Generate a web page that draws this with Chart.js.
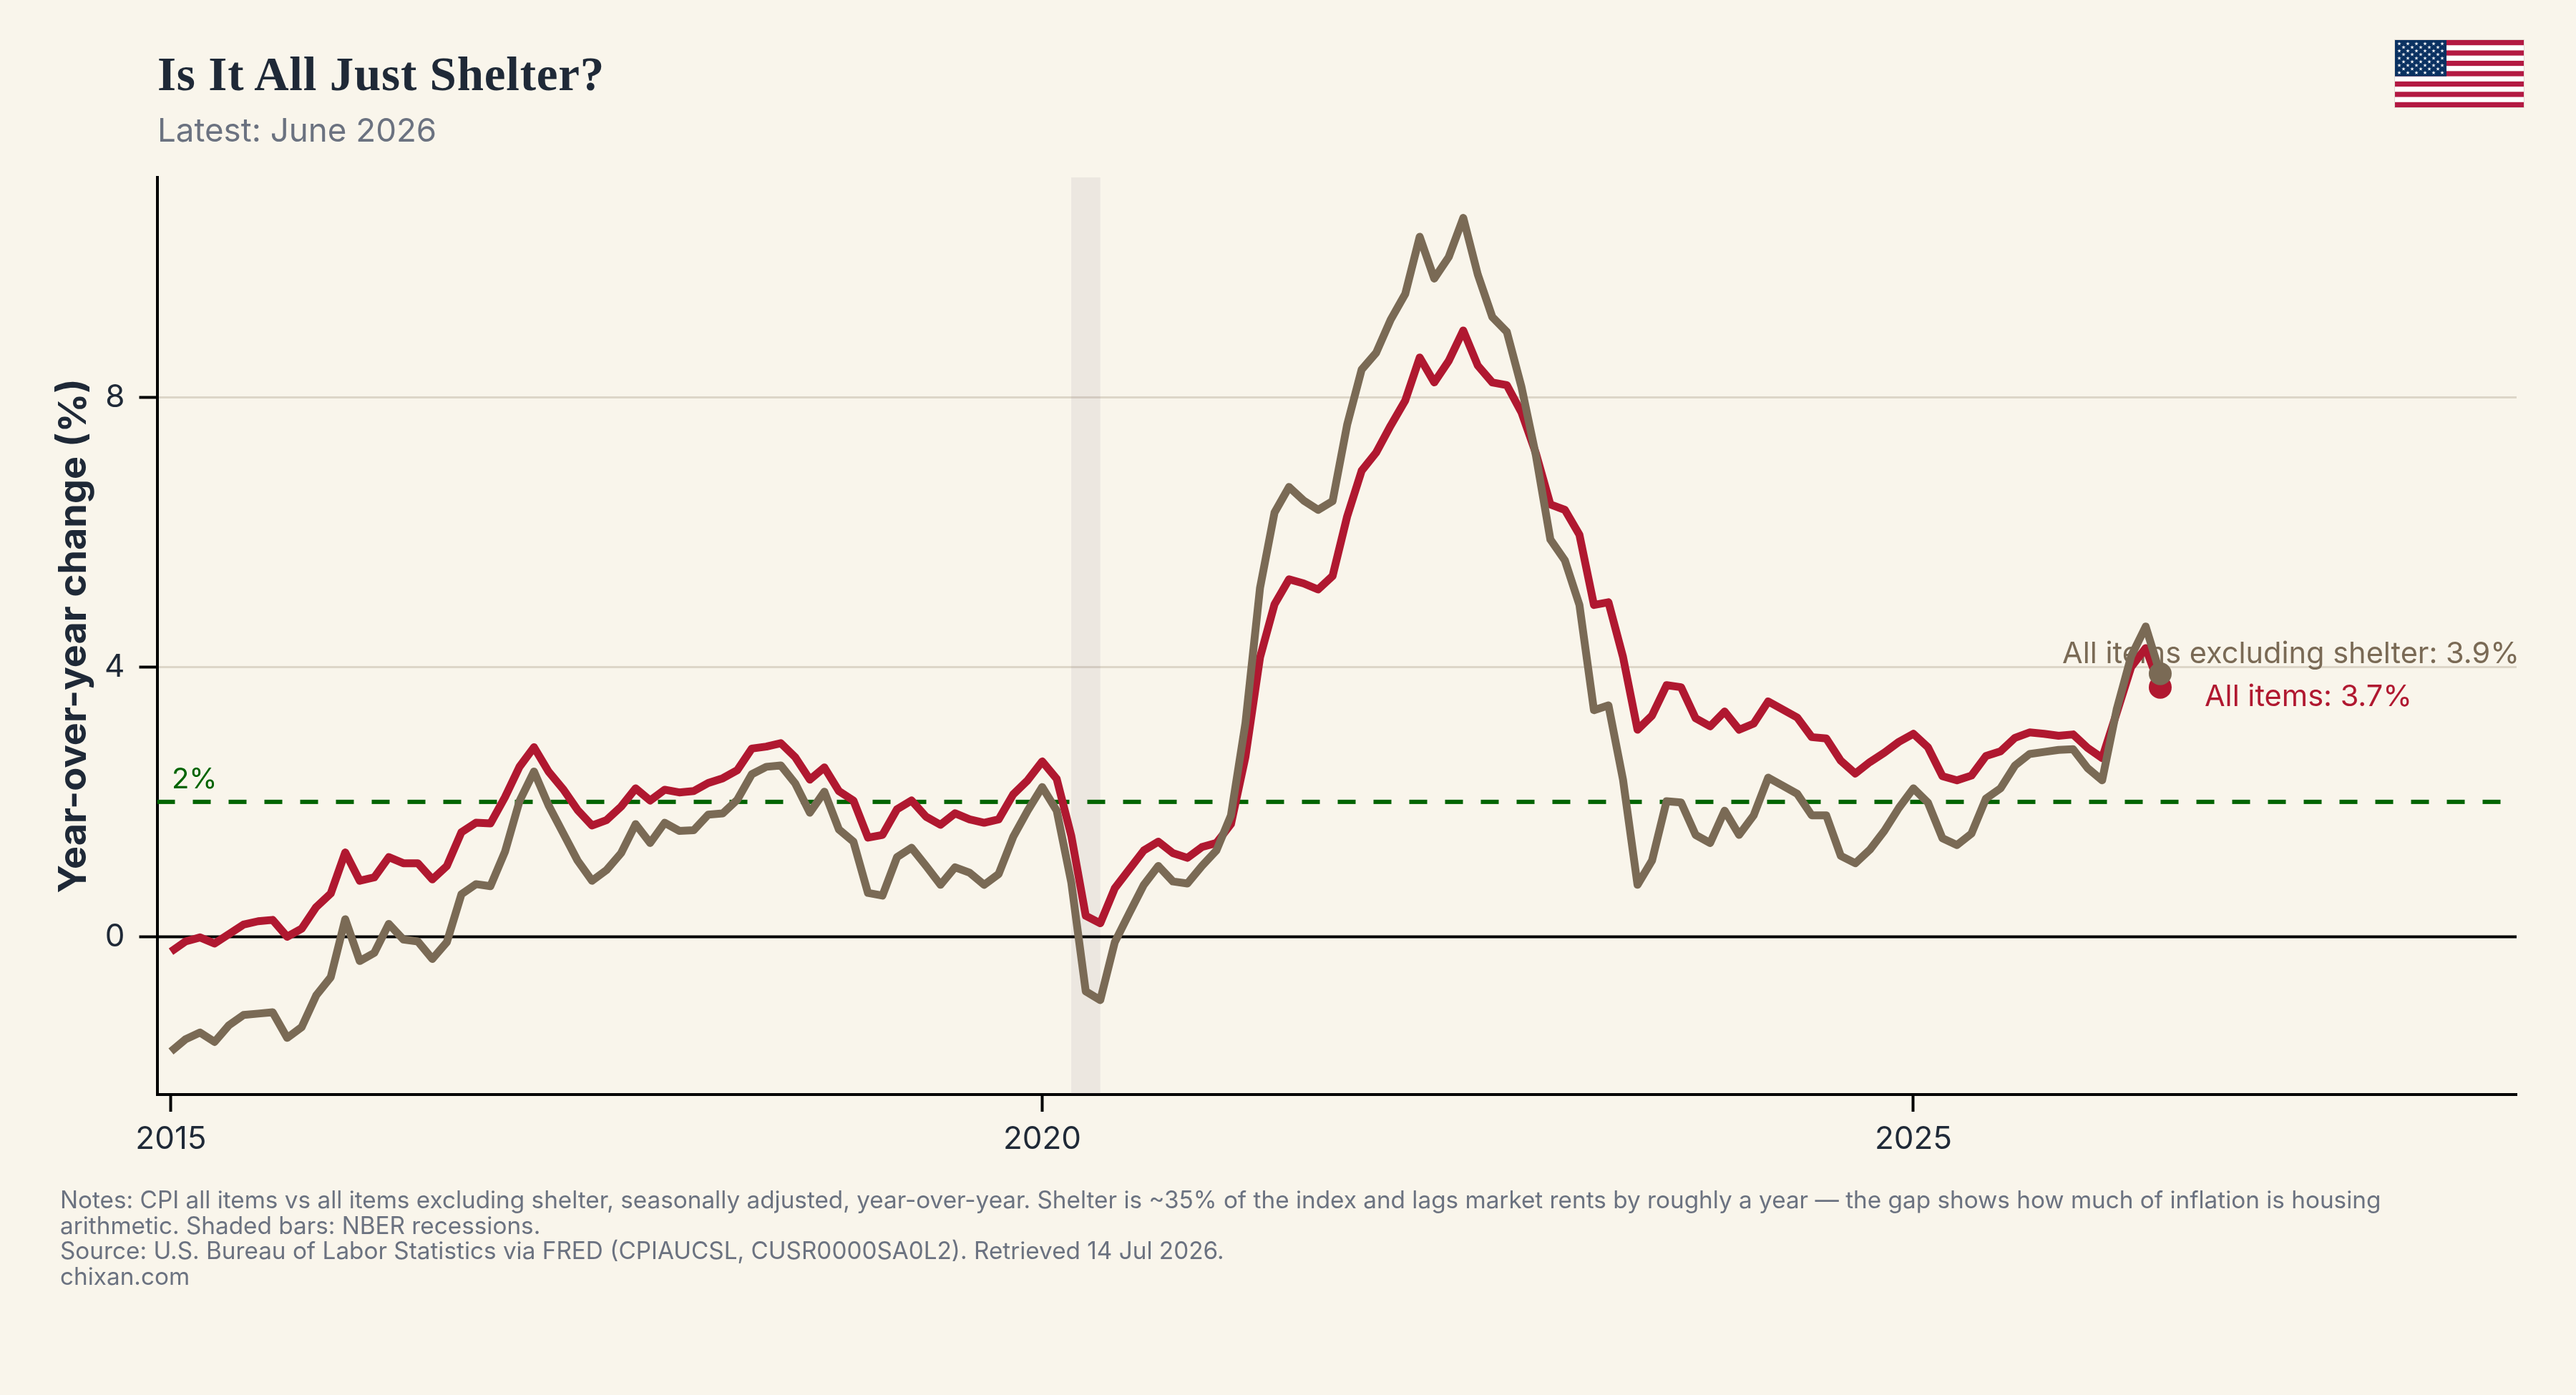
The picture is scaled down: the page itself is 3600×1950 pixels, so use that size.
<!DOCTYPE html>
<html>
<head>
<meta charset="utf-8">
<script src="https://cdn.jsdelivr.net/npm/chart.js@4"></script>
<style>
  html, body { margin: 0; padding: 0; background: #f9f5eb; }
  #wrap { position: relative; width: 3600px; height: 1950px; background: #f9f5eb; overflow: hidden; }
  #plot { position: absolute; left: 0; top: 0; }
  .title { position: absolute; left: 220px; top: 65px; font: 700 67px "Liberation Serif", serif; letter-spacing: 0.8px; color: #1f2937; white-space: nowrap; }
  .subtitle { position: absolute; left: 220px; top: 154px; font: 400 45.7px Inter, sans-serif; color: #6b7280; white-space: nowrap; }
  .notes { position: absolute; left: 84px; top: 1660px; font: 400 33.3px/35.7px Inter, sans-serif; color: #6b7280; white-space: pre; }
  #flag { position: absolute; left: 3346px; top: 55px; }
</style>
</head>
<body>
<div id="wrap">
  <canvas id="plot" width="3600" height="1950"></canvas>
  <div class="title">Is It All Just Shelter?</div>
  <div class="subtitle">Latest: June 2026</div>
  <div class="notes">Notes: CPI all items vs all items excluding shelter, seasonally adjusted, year-over-year. Shelter is ~35% of the index and lags market rents by roughly a year — the gap shows how much of inflation is housing
arithmetic. Shaded bars: NBER recessions.
Source: U.S. Bureau of Labor Statistics via FRED (CPIAUCSL, CUSR0000SA0L2). Retrieved 14 Jul 2026.
chixan.com</div>
  <svg id="flag" width="182" height="96" viewBox="0 0 182 96"></svg>
</div>
<script>
// Monthly year-over-year CPI change, January 2015 through June 2026.
const allItems = [
  -0.22,-0.07,-0.01,-0.10,0.04,0.18,0.23,0.25,0.00,0.12,0.44,0.64,
  1.25,0.83,0.88,1.18,1.09,1.09,0.85,1.05,1.55,1.69,1.68,2.07,
  2.52,2.81,2.45,2.19,1.88,1.65,1.73,1.93,2.20,2.02,2.18,2.14,
  2.16,2.28,2.35,2.47,2.79,2.82,2.87,2.66,2.33,2.51,2.16,2.02,
  1.47,1.51,1.89,2.02,1.78,1.66,1.83,1.74,1.69,1.74,2.11,2.32,
  2.60,2.34,1.50,0.31,0.20,0.72,1.00,1.28,1.41,1.24,1.17,1.33,
  1.39,1.67,2.67,4.14,4.93,5.30,5.24,5.15,5.35,6.23,6.91,7.18,
  7.58,7.95,8.59,8.22,8.54,8.99,8.47,8.22,8.18,7.78,7.17,6.41,
  6.33,5.96,4.92,4.96,4.15,3.07,3.28,3.73,3.70,3.24,3.12,3.34,
  3.07,3.16,3.49,3.37,3.25,2.96,2.94,2.61,2.42,2.59,2.73,2.89,
  3.01,2.81,2.38,2.32,2.39,2.68,2.75,2.95,3.03,3.01,2.98,3.00,
  2.80,2.65,3.32,4.00,4.28,3.70
];
const exShelter = [
  -1.70,-1.52,-1.42,-1.56,-1.31,-1.16,-1.14,-1.12,-1.50,-1.34,-0.87,-0.60,
  0.26,-0.36,-0.24,0.19,-0.04,-0.07,-0.33,-0.08,0.63,0.78,0.75,1.26,
  2.01,2.45,1.95,1.54,1.13,0.83,0.99,1.24,1.67,1.39,1.69,1.57,
  1.58,1.81,1.83,2.03,2.41,2.52,2.54,2.27,1.84,2.15,1.59,1.41,
  0.65,0.61,1.18,1.32,1.05,0.77,1.03,0.95,0.77,0.93,1.48,1.87,
  2.22,1.87,0.81,-0.81,-0.94,-0.08,0.35,0.77,1.05,0.82,0.79,1.05,
  1.28,1.80,3.17,5.17,6.29,6.67,6.47,6.33,6.46,7.59,8.41,8.66,
  9.15,9.53,10.38,9.76,10.08,10.66,9.82,9.19,8.97,8.16,7.14,5.89,
  5.58,4.92,3.36,3.43,2.33,0.77,1.13,2.01,1.99,1.51,1.39,1.87,
  1.51,1.80,2.36,2.24,2.12,1.80,1.80,1.20,1.09,1.29,1.57,1.91,
  2.20,1.99,1.46,1.36,1.53,2.05,2.20,2.54,2.71,2.74,2.77,2.78,
  2.50,2.32,3.37,4.16,4.60,3.90
];
const startYear = 2015;
const xTickYears = [2015, 2020, 2025];
const yTickValues = [0, 4, 8];
const targetRate = 2;
const recessionSpan = [2020 + 2 / 12, 2020 + 4 / 12];
const xLimits = [2014.92, 2028.462];
const yLimits = [-2.34, 11.26];

const RED = '#b01830';
const BROWN = '#7a6a55';
const GREEN = '#006400';
const INK = '#1f2937';
const bodyFont = 'Inter, sans-serif';

const decimalYear = i => startYear + i / 12;
const toPoints = values => values.map((y, i) => ({ x: decimalYear(i), y }));

// Stars-and-stripes badge in the top corner.
(function drawFlag() {
  const svg = document.getElementById('flag');
  const W = 180, H = 94, ox = 1, oy = 1;
  let s = `<rect x="0" y="0" width="182" height="96" fill="#e0dbd2"/>`;
  s += `<rect x="${ox}" y="${oy}" width="${W}" height="${H}" fill="#ffffff"/>`;
  for (let r = 0; r < 13; r += 2) {
    s += `<rect x="${ox}" y="${oy + r * H / 13}" width="${W}" height="${H / 13}" fill="#b31942"/>`;
  }
  const cw = W * 0.4, ch = H * 7 / 13;
  s += `<rect x="${ox}" y="${oy}" width="${cw}" height="${ch}" fill="#0a3161"/>`;
  const star = (cx, cy, R) => {
    let pts = [];
    for (let k = 0; k < 10; k++) {
      const a = -Math.PI / 2 + k * Math.PI / 5, rr = k % 2 ? R * 0.382 : R;
      pts.push((cx + rr * Math.cos(a)).toFixed(2) + ',' + (cy + rr * Math.sin(a)).toFixed(2));
    }
    return `<polygon points="${pts.join(' ')}" fill="#ffffff"/>`;
  };
  for (let row = 0; row < 9; row++) {
    const cols = row % 2 ? 5 : 6;
    for (let c = 0; c < cols; c++) {
      const cx = ox + cw * ((row % 2 ? 2 : 1) + 2 * c) / 12;
      const cy = oy + ch * (row + 1) / 10;
      s += star(cx, cy, 2.9);
    }
  }
  svg.innerHTML = s;
})();

// Recession shading and end-of-line value labels sit beneath the series.
const underlay = {
  id: 'underlay',
  beforeDatasetsDraw(chart) {
    const { ctx, chartArea, scales: { x, y } } = chart;
    ctx.save();
    const x0 = x.getPixelForValue(recessionSpan[0]);
    const x1 = x.getPixelForValue(recessionSpan[1]);
    ctx.fillStyle = 'rgba(110,95,125,0.09)';
    ctx.fillRect(x0, chartArea.top, x1 - x0, chartArea.bottom - chartArea.top);

    // zero baseline
    ctx.strokeStyle = '#000000';
    ctx.lineWidth = 4;
    const zy = y.getPixelForValue(0);
    ctx.beginPath();
    ctx.moveTo(chartArea.left, zy);
    ctx.lineTo(chartArea.right, zy);
    ctx.stroke();

    const lastX = x.getPixelForValue(decimalYear(allItems.length - 1));
    ctx.textBaseline = 'alphabetic';
    ctx.font = '400 41.5px ' + bodyFont;
    ctx.fillStyle = BROWN;
    ctx.textAlign = 'right';
    ctx.fillText('All items excluding shelter: 3.9%', lastX + 502, y.getPixelForValue(exShelter[exShelter.length - 1]) - 15);
    ctx.fillStyle = RED;
    ctx.textAlign = 'left';
    ctx.fillText('All items: 3.7%', lastX + 62, y.getPixelForValue(allItems[allItems.length - 1]) + 26);

    ctx.fillStyle = GREEN;
    ctx.textAlign = 'left';
    ctx.font = '400 40px ' + bodyFont;
    ctx.fillText('2%', x.getPixelForValue(startYear) + 1, y.getPixelForValue(targetRate) - 19);
    ctx.restore();
  }
};

new Chart(document.getElementById('plot'), {
  type: 'line',
  plugins: [underlay],
  data: {
    datasets: [
      {
        label: 'All items excluding shelter',
        data: toPoints(exShelter),
        borderColor: BROWN,
        backgroundColor: BROWN,
        borderWidth: 11,
        borderJoinStyle: 'round',
        tension: 0,
        pointBorderWidth: 0,
        pointRadius: c => (c.dataIndex === exShelter.length - 1 ? 16 : 0),
        order: 1
      },
      {
        label: 'All items',
        data: toPoints(allItems),
        borderColor: RED,
        backgroundColor: RED,
        borderWidth: 11,
        borderJoinStyle: 'round',
        tension: 0,
        pointBorderWidth: 0,
        pointRadius: c => (c.dataIndex === allItems.length - 1 ? 16 : 0),
        order: 2
      },
      {
        label: '2% target',
        data: [{ x: xLimits[0], y: targetRate }, { x: xLimits[1], y: targetRate }],
        borderColor: GREEN,
        borderWidth: 6,
        borderDash: [25, 25],
        pointRadius: 0,
        tension: 0,
        order: 3
      }
    ]
  },
  options: {
    responsive: false,
    animation: false,
    devicePixelRatio: 1,
    layout: { padding: { top: 248, right: 83, left: 0, bottom: 0 } },
    plugins: { legend: { display: false }, tooltip: { enabled: false } },
    scales: {
      x: {
        type: 'linear',
        min: xLimits[0],
        max: xLimits[1],
        afterFit(s) { s.height = 420; },
        afterBuildTicks(s) { s.ticks = xTickYears.map(value => ({ value })); },
        grid: {
          display: true,
          drawOnChartArea: false,
          drawTicks: true,
          tickLength: 24,
          tickColor: '#000000',
          tickWidth: 4
        },
        border: { display: true, color: '#000000', width: 4 },
        ticks: {
          color: INK,
          font: { family: bodyFont, size: 44 },
          padding: 12,
          maxRotation: 0,
          autoSkip: false,
          callback: v => String(v)
        }
      },
      y: {
        min: yLimits[0],
        max: yLimits[1],
        afterFit(s) { s.width = 219.5; },
        afterBuildTicks(s) { s.ticks = yTickValues.map(value => ({ value })); },
        grid: {
          color: c => (c.tick && c.tick.value === 0 ? 'rgba(0,0,0,0)' : '#ddd6c8'),
          lineWidth: 3,
          drawTicks: true,
          tickLength: 25,
          tickColor: '#000000',
          tickWidth: 4
        },
        border: { display: true, color: '#000000', width: 4 },
        title: {
          display: true,
          text: 'Year-over-year change (%)',
          color: INK,
          font: { family: bodyFont, size: 54, weight: '700' },
          padding: { top: 71, bottom: 0 }
        },
        ticks: {
          color: INK,
          font: { family: bodyFont, size: 44 },
          padding: 20,
          autoSkip: false,
          callback: v => String(v)
        }
      }
    }
  }
});
</script>
</body>
</html>
